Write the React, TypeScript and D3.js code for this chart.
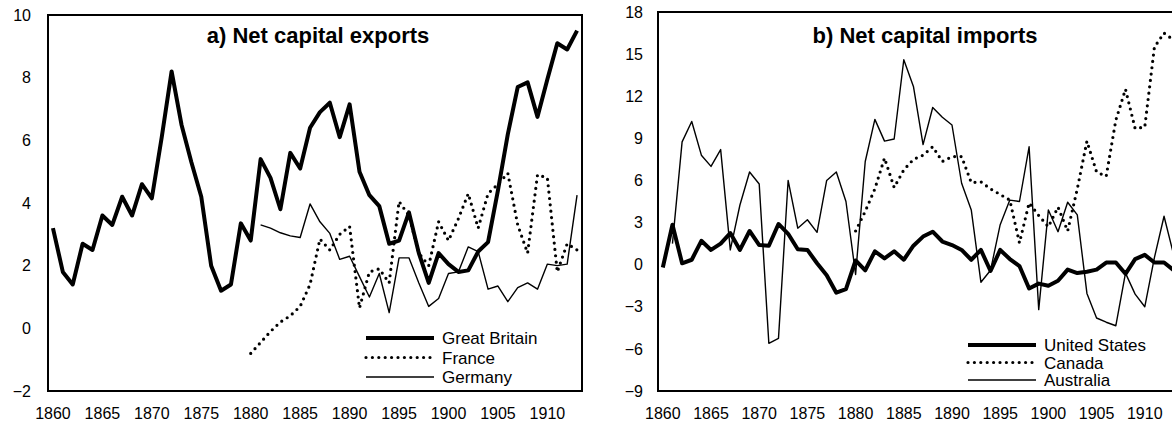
import React, { useEffect, useRef } from "react";
import * as d3 from "d3";

// categories
const years = d3.range(1860, 1914);
const yearTicks = [1860, 1865, 1870, 1875, 1880, 1885, 1890, 1895, 1900, 1905, 1910];

// a) net capital exports (% of GDP)
const gbExports = [
  3.2, 1.8, 1.4, 2.7, 2.5, 3.6, 3.3, 4.2, 3.6, 4.6,
  4.15, 6.1, 8.2, 6.5, 5.3, 4.2, 2.0, 1.2, 1.4, 3.35,
  2.8, 5.4, 4.8, 3.8, 5.6, 5.1, 6.4, 6.9, 7.2, 6.1,
  7.15, 5.0, 4.25, 3.9, 2.7, 2.8, 3.7, 2.4, 1.45, 2.4,
  2.05, 1.8, 1.85, 2.45, 2.75, 4.4, 6.2, 7.7, 7.85, 6.75,
  7.95, 9.1, 8.9, 9.5,
];
const franceStart = 1880;
const franceExports = [
  -0.8, -0.45, -0.1, 0.2, 0.4, 0.7, 1.4, 2.85, 2.5, 3.0,
  3.25, 0.65, 1.8, 1.9, 1.45, 4.05, 3.6, 2.4, 2.0, 3.4,
  2.8, 3.5, 4.3, 3.2, 4.3, 4.6, 4.95, 3.3, 2.4, 4.9,
  4.8, 1.8, 2.7, 2.5,
];
const germanyStart = 1881;
const germanyExports = [
  3.3, 3.2, 3.05, 2.95, 2.9, 3.97, 3.4, 3.03, 2.2,
  2.3, 1.65, 1.0, 1.75, 0.5, 2.25, 2.25, 1.45, 0.7, 0.95,
  1.75, 1.8, 2.6, 2.45, 1.25, 1.35, 0.85, 1.3, 1.45, 1.25,
  2.05, 2.0, 2.05, 4.25,
];

// b) net capital imports (% of GDP)
const usImports = [
  -0.2, 2.85, 0.1, 0.35, 1.7, 1.05, 1.5, 2.25, 1.05, 2.4,
  1.4, 1.35, 2.9, 2.2, 1.1, 1.05, 0.1, -0.75, -2.0, -1.75,
  0.3, -0.4, 0.95, 0.45, 0.95, 0.35, 1.35, 2.0, 2.35, 1.65,
  1.4, 1.05, 0.35, 1.05, -0.45, 1.05, 0.4, -0.1, -1.7, -1.35,
  -1.5, -1.15, -0.35, -0.6, -0.5, -0.35, 0.15, 0.15, -0.65, 0.4,
  0.7, 0.15, 0.15, -0.4,
];
const canadaStart = 1880;
const canadaImports = [
  2.4, 3.8, 5.4, 7.6, 5.5, 6.75, 7.5, 7.8, 8.4, 7.35,
  7.7, 7.7, 5.85, 5.9, 5.4, 5.0, 4.6, 1.55, 4.4, 3.5,
  2.7, 4.1, 2.4, 5.4, 8.8, 6.6, 6.3, 10.3, 12.5, 9.7,
  9.8, 15.5, 16.5, 16.0,
];
const australiaStart = 1861;
const australiaImports = [
  1.5, 8.75, 10.2, 7.8, 7.0, 8.2, 1.05, 4.25, 6.6,
  5.75, -5.6, -5.25, 6.0, 2.6, 3.2, 2.3, 6.0, 6.6, 4.5,
  -0.7, 7.35, 10.35, 8.8, 8.95, 14.6, 12.7, 8.55, 11.2, 10.5,
  9.95, 5.8, 3.9, -1.25, -0.4, 2.85, 4.6, 4.5, 8.4, -3.2,
  3.9, 2.35, 4.45, 3.55, -2.05, -3.8, -4.1, -4.35, -0.6, -2.1,
  -3.0, 0.5, 3.45, 0.7,
];

const exportTicks = [-2, 0, 2, 4, 6, 8, 10];
const importTicks = [-9, -6, -3, 0, 3, 6, 9, 12, 15, 18];

type Style = "thick" | "dotted" | "thin";
type Series = { name: string; start: number; values: number[]; style: Style };

const strokeFor: Record<Style, any> = {
  thick: { strokeWidth: 4 },
  thin: { strokeWidth: 1.4 },
  dotted: { strokeWidth: 3.2, strokeDasharray: "0 6.4", strokeLinecap: "round" },
};

const FONT = "'Liberation Sans', Arial, sans-serif";

type PanelProps = {
  title: string;
  titleX: number;
  series: Series[];
  domain: [number, number];
  ticks: number[];
  left: number;
  right: number;
  top: number;
  bottom: number;
  labelPad: number;
  legendX: number;
  legendY: number;
  legendGap: number;
};

const Panel = (p: PanelProps) => {
  const yAxisRef = useRef<SVGGElement>(null);
  const xAxisRef = useRef<SVGGElement>(null);

  const x = d3.scaleBand<number>().domain(years).range([p.left, p.right]).padding(0);
  const y = d3.scaleLinear().domain(p.domain).range([p.bottom, p.top]);
  const cx = (yr: number) => (x(yr) as number) + x.bandwidth() / 2;

  useEffect(() => {
    const ya = d3.axisLeft(y).tickValues(p.ticks).tickSize(0).tickPadding(p.labelPad);
    const g = d3.select(yAxisRef.current).call(ya as any);
    g.select(".domain").remove();
    g.selectAll("text").attr("font-family", FONT).attr("font-size", 16).attr("fill", "#000");

    const xa = d3.axisBottom(x).tickValues(yearTicks).tickSize(0).tickPadding(17);
    const gx = d3.select(xAxisRef.current).call(xa as any);
    gx.select(".domain").remove();
    gx.selectAll("text").attr("font-family", FONT).attr("font-size", 16).attr("fill", "#000");
  }, []);

  const line = d3
    .line<{ yr: number; v: number }>()
    .x((d) => cx(d.yr))
    .y((d) => y(d.v));

  return (
    <g>
      <rect
        x={p.left}
        y={p.top}
        width={p.right - p.left}
        height={p.bottom - p.top}
        fill="none"
        stroke="#000"
        strokeWidth={2}
      />
      <g ref={yAxisRef} transform={`translate(${p.left},0)`} />
      <g ref={xAxisRef} transform={`translate(0,${p.bottom})`} />
      {p.series.map((s) => (
        <path
          key={s.name}
          d={line(s.values.map((v, i) => ({ yr: s.start + i, v }))) || ""}
          fill="none"
          stroke="#000"
          strokeLinejoin="round"
          {...strokeFor[s.style]}
        />
      ))}
      <text
        x={p.titleX}
        y={43}
        textAnchor="middle"
        fontFamily={FONT}
        fontWeight="bold"
        fontSize={22}
      >
        {p.title}
      </text>
      {p.series.map((s, i) => {
        const ly = p.legendY + i * p.legendGap;
        return (
          <g key={"lg" + s.name}>
            <line
              x1={p.legendX}
              x2={p.legendX + 68}
              y1={ly}
              y2={ly}
              stroke="#000"
              {...strokeFor[s.style]}
            />
            <text x={p.legendX + 76} y={ly + 6} fontFamily={FONT} fontSize={17}>
              {s.name}
            </text>
          </g>
        );
      })}
    </g>
  );
};

export default function App() {
  const exportsSeries: Series[] = [
    { name: "Great Britain", start: 1860, values: gbExports, style: "thick" },
    { name: "France", start: franceStart, values: franceExports, style: "dotted" },
    { name: "Germany", start: germanyStart, values: germanyExports, style: "thin" },
  ];
  const importsSeries: Series[] = [
    { name: "United States", start: 1860, values: usImports, style: "thick" },
    { name: "Canada", start: canadaStart, values: canadaImports, style: "dotted" },
    { name: "Australia", start: australiaStart, values: australiaImports, style: "thin" },
  ];
  return (
    <svg
      width={1172}
      height={423}
      style={{ position: "absolute", left: 0, top: 0, background: "#fff" }}
    >
      <Panel
        title="a) Net capital exports"
        titleX={318}
        series={exportsSeries}
        domain={[-2, 10]}
        ticks={exportTicks}
        left={48}
        right={582}
        top={15}
        bottom={391}
        labelPad={17}
        legendX={366}
        legendY={338}
        legendGap={19.5}
      />
      <Panel
        title="b) Net capital imports"
        titleX={925}
        series={importsSeries}
        domain={[-9, 18]}
        ticks={importTicks}
        left={658}
        right={1178.5}
        top={12}
        bottom={391}
        labelPad={15}
        legendX={968}
        legendY={345}
        legendGap={17.5}
      />
    </svg>
  );
}
